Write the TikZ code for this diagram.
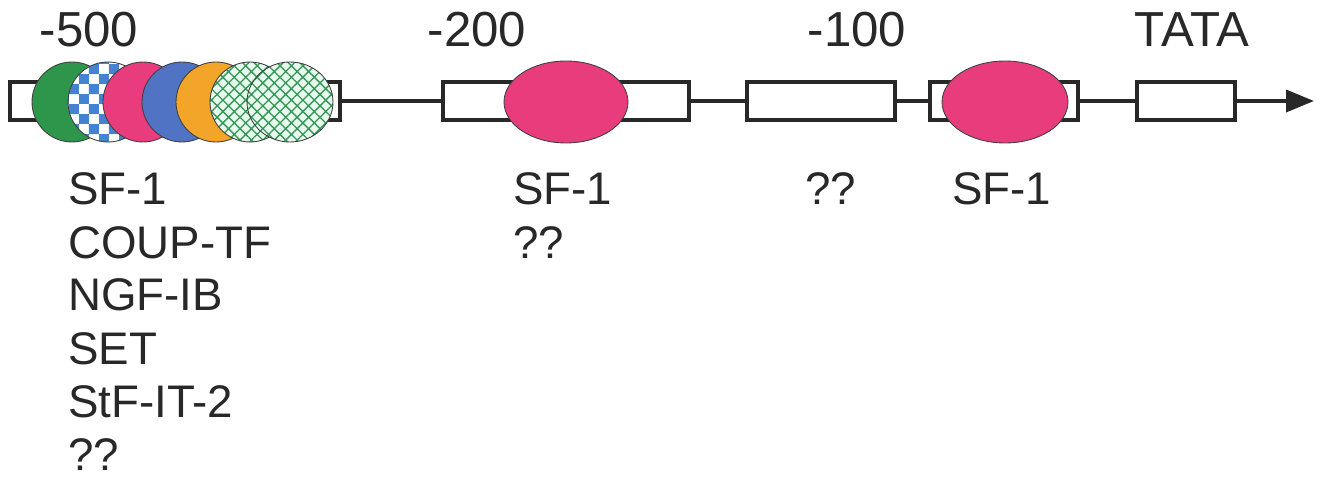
\documentclass[tikz,border=0pt]{standalone}
\usepackage{fontspec}
\setmainfont{Liberation Sans}
\usetikzlibrary{arrows.meta,shapes.geometric,patterns,patterns.meta}
\definecolor{sfgreen}{RGB}{45,150,75}
\definecolor{chkblue}{RGB}{70,130,210}
\definecolor{sfpink}{RGB}{232,60,125}
\definecolor{sfblue}{RGB}{80,115,195}
\definecolor{sforange}{RGB}{242,165,40}
\definecolor{hgreen}{RGB}{50,150,85}
\definecolor{hgbg}{RGB}{232,250,238}
\definecolor{schrift}{RGB}{40,40,40}
\tikzset{
	kasten/.style={draw=schrift,line width=0.09cm,fill=white,minimum height=0.76cm,inner sep=0pt},
	strang/.style={draw=schrift,line width=0.075cm},
	faktor/.style={ellipse,draw=black!75,line width=0.5pt,inner sep=0pt,minimum width=1.6cm,minimum height=1.6cm},
	netz/.style={preaction={fill=hgbg},pattern={Hatch[angle=45,distance=4.6pt,line width=0.75pt]},pattern color=hgreen},
	oben/.style={font=\fontsize{28}{30}\selectfont,text=schrift,anchor=base,inner sep=0pt},
	unten/.style={font=\fontsize{26}{28}\selectfont,text=schrift,anchor=base west,inner sep=0pt}
}
\begin{document}
\begin{tikzpicture}[x=0.02cm,y=-0.02cm]
	\useasboundingbox (0,0) rectangle (1320,483);
	% Kaesten
	\node[kasten,minimum width=6.6cm] (reg1) at (175,101) {};
	\node[kasten,minimum width=4.92cm] (reg2) at (566,101) {};
	\node[kasten,minimum width=2.96cm] (reg3) at (821,101) {};
	\node[kasten,minimum width=2.96cm] (reg4) at (1004,101) {};
	\node[kasten,minimum width=1.96cm] (reg5) at (1186,101) {};
	\coordinate (spitze) at (1314,101);
	% Strang
	\draw[strang] (reg1) -- (reg2);
	\draw[strang] (reg2) -- (reg3);
	\draw[strang] (reg3) -- (reg4);
	\draw[strang] (reg4) -- (reg5);
	\draw[strang,-{Triangle[length=0.56cm,width=0.44cm]}] (reg5) -- (spitze);
	% Faktoren bei -500
	\node[faktor,fill=sfgreen] (fak1) at (72,102) {};
	\node[faktor,preaction={fill=white},pattern=checkerboard,pattern color=chkblue] (fak2) at (108,102) {};
	\node[faktor,fill=sfpink] (fak3) at (143,102) {};
	\node[faktor,fill=sfblue] (fak4) at (182,102) {};
	\node[faktor,fill=sforange] (fak5) at (216,102) {};
	\node[faktor,netz] (fak6) at (250,102) {};
	\node[faktor,netz,minimum width=1.72cm] (fak7) at (290,102) {};
	% SF-1
	\node[faktor,fill=sfpink,minimum width=2.48cm,minimum height=1.64cm] (sfa) at (566,102) {};
	\node[faktor,fill=sfpink,minimum width=2.52cm,minimum height=1.64cm] (sfb) at (1005,102) {};
	% Beschriftung
	\node[oben] (l500) at (89,47) {-500};
	\node[oben] (l200) at (477,47) {-200};
	\node[oben] (l100) at (857,47) {-100};
	\node[oben] (ltata) at (1192,47) {TATA};
	\foreach \txt [count=\i from 0] in {SF-1,COUP-TF,NGF-IB,SET,StF-IT-2,??}
		\node[unten] (fl\i) at (68,205+53*\i) {\txt};
	\node[unten] (sfl1) at (513,205) {SF-1};
	\node[unten] (sfl2) at (513,258) {??};
	\node[unten] (ql) at (805,205) {??};
	\node[unten] (sfl3) at (952,205) {SF-1};
\end{tikzpicture}
\end{document}
